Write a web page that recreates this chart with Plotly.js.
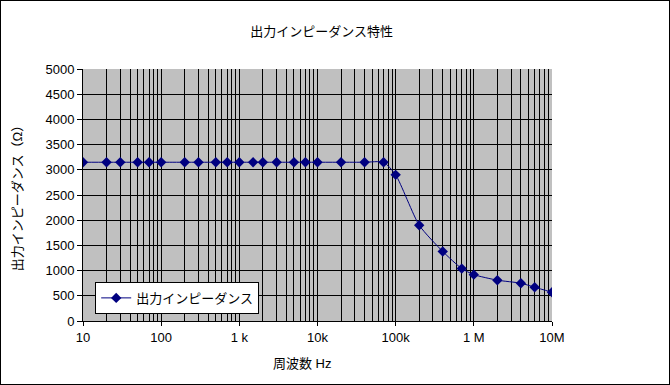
<!DOCTYPE html>
<html><head><meta charset="utf-8">
<script src="https://cdn.plot.ly/plotly-3.0.1.min.js"></script>
<style>
html,body{margin:0;padding:0;background:#fff;}
#wrap{width:668px;height:383px;border:1px solid #000;}
#chart{width:668px;height:383px;}
</style></head>
<body><div id="wrap"><div id="chart"></div></div>
<script>
const freqHz = [10,20,30,50,70,100,200,300,500,700,1000,1500,2000,3000,5000,7000,10000,20000,40000,70000,100000,200000,400000,700000,1000000,2000000,4000000,6000000,10000000];
const impedance = [3150,3150,3150,3150,3150,3150,3150,3150,3150,3150,3150,3150,3150,3150,3150,3150,3150,3150,3150,3150,2900,1900,1380,1040,920,810,750,670,570];
const seriesName = '出力インピーダンス';
const chartTitle = '出力インピーダンス特性';
const xTitle = '周波数 Hz';
const yTitle = '出力インピーダンス（Ω）';
const xTickVals = [10,100,1000,10000,100000,1000000,10000000];
const xTickText = ['10','100','1 k','10k','100k','1 M','10M'];

const minorVals = [];
for (let d = 10; d < 1e7; d *= 10) { for (let m = 2; m <= 9; m++) minorVals.push(d*m); }

const font = {family: 'Liberation Sans, Arial, "Noto Sans CJK JP", sans-serif', size: 13, color: '#000'};
const jp = 'Liberation Sans, "Noto Sans CJK JP", sans-serif';

Plotly.newPlot('chart', [{
  x: freqHz, y: impedance, type: 'scatter', mode: 'lines+markers', name: seriesName,
  line: {color: '#000080', width: 1, shape: 'spline', smoothing: 0.6},
  marker: {symbol: 'diamond', size: 8, color: '#000080'}
}], {
  width: 668, height: 383,
  margin: {l: 82, r: 117, t: 68, b: 63},
  paper_bgcolor: '#fff', plot_bgcolor: '#c0c0c0',
  font: font,
  title: {text: chartTitle, font: {family: jp, size: 13, color: '#000'}, x: 0.48, xanchor: 'center', y: 0.92, yanchor: 'middle'},
  showlegend: true,
  legend: {x: 0.026, y: 0.155, xanchor: 'left', yanchor: 'top', bgcolor: '#fff', bordercolor: '#000', borderwidth: 1,
           font: {family: jp, size: 13, color: '#000'}},
  annotations: [{text: xTitle, xref: 'paper', yref: 'paper', x: 0.467, y: -0.167, xanchor: 'center', yanchor: 'middle',
                 showarrow: false, font: {family: jp, size: 13, color: '#000'}}],
  xaxis: {type: 'log', range: [1, 7], tickvals: xTickVals, ticktext: xTickText,
          showgrid: true, gridcolor: '#000', gridwidth: 1,
          ticks: 'outside', ticklen: 4, tickcolor: '#000',
          showline: true, linecolor: '#000', linewidth: 1, zeroline: false,
          minor: {tickvals: minorVals, showgrid: true, gridcolor: '#000', gridwidth: 1, ticks: ''}},
  yaxis: {range: [0, 5000], dtick: 500, tick0: 0,
          showgrid: true, gridcolor: '#000', gridwidth: 1,
          ticks: 'outside', ticklen: 5, tickcolor: '#000',
          showline: true, linecolor: '#000', linewidth: 1, zeroline: false,
          title: {text: yTitle, font: {family: jp, size: 13, color: '#000'}, standoff: 19}}
}, {displayModeBar: false, staticPlot: true});
</script></body></html>
